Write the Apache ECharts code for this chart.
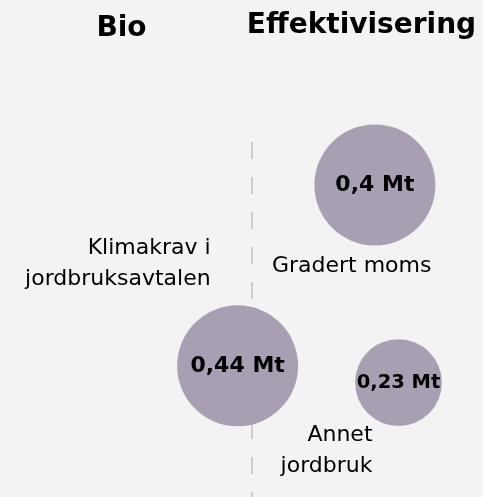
<!DOCTYPE html>
<html style="height: 100%">
    <head>
        <meta charset="utf-8">
        <title>Tiltak</title>
        <script type="text/javascript" src="https://cdn.jsdelivr.net/npm/echarts@6/dist/echarts.min.js"></script>
    </head>
    <body style="height: 100%; margin: 0; background: #f3f3f3">
        <div id="container" style="width: 483px; height: 497px"></div>
        <script type="text/javascript">

        // tiltak, verdi i Mt, og plassering i diagrammet
        var names = ['Klimakrav i\njordbruksavtalen', 'Gradert moms', 'Annet\njordbruk'];
        var values = [0.44, 0.4, 0.23];
        var xPos = [-0.06, 0.533, 0.635];
        var yPos = [3.28, 7.8, 2.86];
        var headers = ['Bio', 'Effektivisering'];

        // hvor navnet står i forhold til sirkelen
        var nameLayout = [
            { align: 'right', offset: [-27, -102] },
            { align: 'left', offset: [-103, 81] },
            { align: 'right', offset: [-26, 68] }
        ];

        var font = 'DejaVu Sans';

        function bubbleSize(v) {
            return Math.min(121, 121 * Math.pow(v / 0.4, 0.6));
        }

        var dom = document.getElementById("container");
        var myChart = echarts.init(dom);

        var bubbles = [];
        var nameMarks = [];
        for (var i = 0; i < values.length; i++) {
            var d = bubbleSize(values[i]);
            bubbles.push({
                value: [xPos[i], yPos[i], values[i]],
                symbolSize: d,
                label: { fontSize: Math.min(22, d * 0.225) }
            });
            nameMarks.push({
                value: [xPos[i], yPos[i]],
                name: names[i],
                label: {
                    align: nameLayout[i].align,
                    offset: nameLayout[i].offset
                }
            });
        }

        var option = {
            backgroundColor: '#f3f3f3',
            animation: false,
            graphic: [
                {
                    type: 'text', x: 121.5, y: 29,
                    style: { text: headers[0], font: 'bold 28px "' + font + '"', fill: '#000', textAlign: 'center', textVerticalAlign: 'middle' }
                },
                {
                    type: 'text', x: 361.5, y: 26,
                    style: { text: headers[1], font: 'bold 28px "' + font + '"', fill: '#000', textAlign: 'center', textVerticalAlign: 'middle' }
                }
            ],
            grid: { left: 20, right: 0, top: 97, bottom: 0 },
            xAxis: { type: 'value', min: -1, max: 1, show: false },
            yAxis: { type: 'value', min: 0, max: 10, show: false },
            series: [
                {
                    type: 'scatter',
                    z: 1,
                    symbolSize: 1,
                    itemStyle: { color: '#f3f3f3', opacity: 1 },
                    data: nameMarks,
                    label: {
                        show: true,
                        position: 'inside',
                        formatter: '{b}',
                        color: '#000',
                        fontFamily: font,
                        fontSize: 22,
                        lineHeight: 31,
                        verticalAlign: 'middle'
                    },
                    markLine: {
                        silent: true,
                        z: 0,
                        symbol: 'none',
                        label: { show: false },
                        lineStyle: { color: '#cdcdcd', width: 2, type: [17, 18] },
                        data: [[{ coord: [0, 8.875] }, { coord: [0, 0] }]]
                    }
                },
                {
                    type: 'scatter',
                    z: 2,
                    itemStyle: { color: '#a99fb2', opacity: 1 },
                    data: bubbles,
                    label: {
                        show: true,
                        position: 'inside',
                        formatter: function (p) {
                            return String(p.value[2]).replace('.', ',') + ' Mt';
                        },
                        color: '#000',
                        fontFamily: font,
                        fontWeight: 'bold'
                    }
                }
            ]
        };
        myChart.setOption(option);

        </script>
    </body>
</html>
